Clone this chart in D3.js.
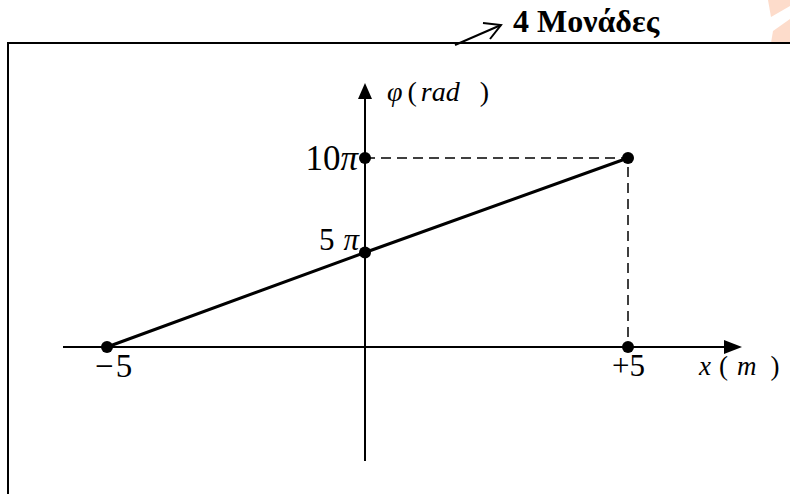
<!DOCTYPE html>
<html>
<head>
<meta charset="utf-8">
<script src="https://cdn.jsdelivr.net/npm/d3@7"></script>
<style>
  html, body { margin: 0; padding: 0; background: #fff; }
  svg { display: block; }
  text { font-family: "Liberation Serif", "Times New Roman", serif; fill: #000; }
</style>
</head>
<body>
<svg id="chart" width="790" height="494"></svg>
<script>
// Phase φ (in units of π) against position x (m)
const xValues = [-5, 0, 5];
const phiValues = [0, 5, 10];
const xTickLabels = ["\u2212", "5", "+5"];
const phiTickLabels = ["5", "10"];

const svg = d3.select("#chart");

const x = d3.scaleLinear().domain([-5, 5]).range([107, 628]);
const y = d3.scaleLinear().domain([0, 10]).range([347, 158]);

// decorative corner shape
svg.append("path").attr("d", "M768,0 L790,0 L790,6 L771,17 Z").attr("fill", "#fddccb");
svg.append("path").attr("d", "M771,43 L773,31 L790,19 L790,43 Z").attr("fill", "#fddccb");

// frame
svg.append("path")
  .attr("d", "M8,494 L8,43 L790,43")
  .attr("fill", "none").attr("stroke", "#000").attr("stroke-width", 2);

// heading with pointer
svg.append("line").attr("x1", 455).attr("y1", 45).attr("x2", 501).attr("y2", 25)
  .attr("stroke", "#000").attr("stroke-width", 2);
svg.append("path").attr("d", "M483,23 L501,25 L490,39")
  .attr("fill", "none").attr("stroke", "#000").attr("stroke-width", 2);
svg.append("text").attr("x", 513).attr("y", 32)
  .style("font-size", "32px").style("font-weight", "bold").text("4 Μονάδες");

// axes
const x0 = 365, yBase = y(0);
svg.append("line").attr("x1", 63).attr("y1", yBase).attr("x2", 728).attr("y2", yBase)
  .attr("stroke", "#000").attr("stroke-width", 2);
svg.append("path").attr("d", `M742,${yBase} L724,${yBase - 7} L724,${yBase + 7} Z`).attr("fill", "#000");

svg.append("line").attr("x1", x0).attr("y1", 461).attr("x2", x0).attr("y2", 96)
  .attr("stroke", "#000").attr("stroke-width", 2);
svg.append("path").attr("d", `M${x0},83 L${x0 - 7},99 L${x0 + 7},99 Z`).attr("fill", "#000");

// dashed guides to the end point
const last = xValues.length - 1;
svg.append("path")
  .attr("d", `M${x0},${y(phiValues[last])} L${x(xValues[last])},${y(phiValues[last])} L${x(xValues[last])},${yBase}`)
  .attr("fill", "none").attr("stroke", "#000").attr("stroke-width", 1.5)
  .attr("stroke-dasharray", "10,6");

// phase line
const line = d3.line().x((d, i) => i === 1 ? x0 : x(xValues[i])).y(d => y(d));
svg.append("path").datum(phiValues).attr("d", line)
  .attr("fill", "none").attr("stroke", "#000").attr("stroke-width", 3);

// points on the line and their projections
const pts = xValues.map((v, i) => [v, phiValues[i]]);
pts.push([0, phiValues[last]], [xValues[last], 0]);
svg.selectAll("circle.pt").data(pts).enter().append("circle")
  .attr("class", "pt")
  .attr("cx", d => d[0] === 0 ? x0 : x(d[0])).attr("cy", d => y(d[1])).attr("r", 6).attr("fill", "#000");

// φ tick labels
const t10 = svg.append("text").attr("x", x0 - 7).attr("y", 170)
  .style("font-size", "35px").attr("text-anchor", "end");
t10.append("tspan").text(phiTickLabels[1]);
t10.append("tspan").style("font-style", "italic").text("π");
const t5 = svg.append("text").attr("x", x0 - 6).attr("y", 250)
  .style("font-size", "31px").attr("text-anchor", "end");
t5.append("tspan").text(phiTickLabels[0]);
t5.append("tspan").attr("dx", 9).style("font-style", "italic").text("π");

// x tick labels
const tm5 = svg.append("text").attr("x", 95).attr("y", 377).style("font-size", "33px");
tm5.append("tspan").text(xTickLabels[0]);
tm5.append("tspan").attr("dx", 2).text(xTickLabels[1]);
svg.append("text").attr("x", 612).attr("y", 376).style("font-size", "31px").text(xTickLabels[2]);

// axis titles
const xt = svg.append("text").attr("x", 699).attr("y", 375).style("font-size", "27px");
xt.append("tspan").style("font-style", "italic").text("x");
xt.append("tspan").attr("dx", 8).text("(");
xt.append("tspan").attr("dx", 9).style("font-style", "italic").text("m");
xt.append("tspan").attr("dx", 14).text(")");

const yt = svg.append("text").attr("x", 387).attr("y", 101).style("font-size", "28px");
yt.append("tspan").style("font-style", "italic").text("φ");
yt.append("tspan").attr("dx", 5).text("(");
yt.append("tspan").attr("dx", 4).style("font-style", "italic").text("rad");
yt.append("tspan").attr("dx", 20).text(")");
</script>
</body>
</html>
